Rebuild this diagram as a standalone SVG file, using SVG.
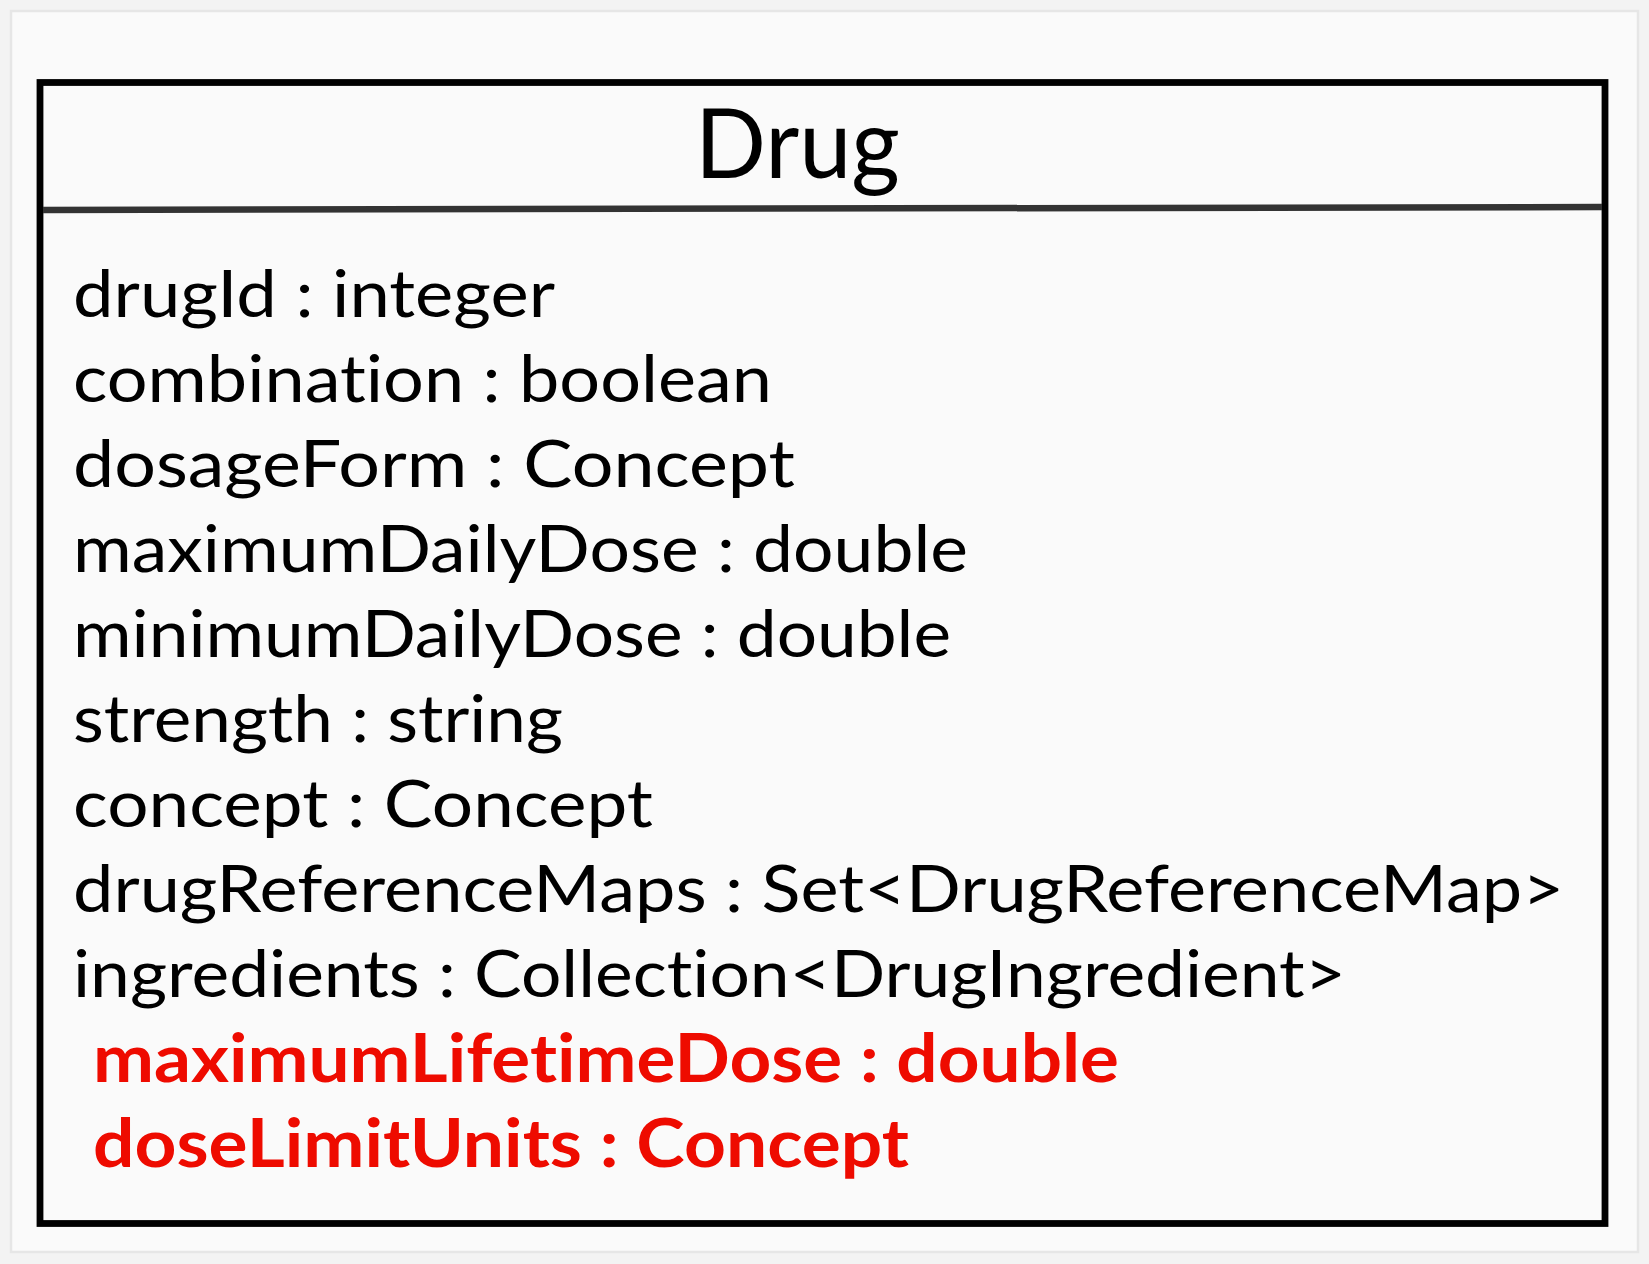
<svg xmlns="http://www.w3.org/2000/svg" width="1649" height="1264" viewBox="0 0 1649 1264">
  <style>
    text { font-variant-ligatures: none; font-feature-settings: "liga" 0, "clig" 0; }
    .attr { font-family: Lato, "Liberation Sans", sans-serif; font-size: 66px; fill: #000; }
    .added { font-family: Lato, "Liberation Sans", sans-serif; font-size: 66px; font-weight: bold; fill: #ee0b00; }
    .title { font-family: Lato, "Liberation Sans", sans-serif; font-size: 97px; fill: #000; }
  </style>
  <!-- page -->
  <rect x="0" y="0" width="1649" height="1264" fill="#f3f3f3"/>
  <rect x="11" y="11" width="1627" height="1241" fill="#fafafa" stroke="#e6e6e6" stroke-width="2.5"/>

  <!-- class box -->
  <g id="drug">
    <rect x="40" y="82.5" width="1565" height="1141" fill="#fafafa" stroke="#000" stroke-width="6.8"/>
    <line x1="43" y1="210" x2="1602" y2="207" stroke="#333" stroke-width="6.5"/>
    <text class="title" x="695" y="178" textLength="205" lengthAdjust="spacingAndGlyphs">Drug</text>
    <text class="attr" x="73" y="317" textLength="482" lengthAdjust="spacingAndGlyphs">drugId : integer</text>
    <text class="attr" x="73" y="402" textLength="699" lengthAdjust="spacingAndGlyphs">combination : boolean</text>
    <text class="attr" x="73" y="487" textLength="722" lengthAdjust="spacingAndGlyphs">dosageForm : Concept</text>
    <text class="attr" x="73" y="572" textLength="895" lengthAdjust="spacingAndGlyphs">maximumDailyDose : double</text>
    <text class="attr" x="73" y="657" textLength="878" lengthAdjust="spacingAndGlyphs">minimumDailyDose : double</text>
    <text class="attr" x="73" y="742" textLength="490" lengthAdjust="spacingAndGlyphs">strength : string</text>
    <text class="attr" x="73" y="827" textLength="580" lengthAdjust="spacingAndGlyphs">concept : Concept</text>
    <text class="attr" x="73" y="912" textLength="1491" lengthAdjust="spacingAndGlyphs">drugReferenceMaps : Set&lt;DrugReferenceMap&gt;</text>
    <text class="attr" x="73" y="997" textLength="1273" lengthAdjust="spacingAndGlyphs">ingredients : Collection&lt;DrugIngredient&gt;</text>
    <text class="added" x="93" y="1082" textLength="1026" lengthAdjust="spacingAndGlyphs">maximumLifetimeDose : double</text>
    <text class="added" x="93" y="1167" textLength="816" lengthAdjust="spacingAndGlyphs">doseLimitUnits : Concept</text>
  </g>

  <!-- no connectors in this diagram -->
  <g id="connectors"/>
</svg>
